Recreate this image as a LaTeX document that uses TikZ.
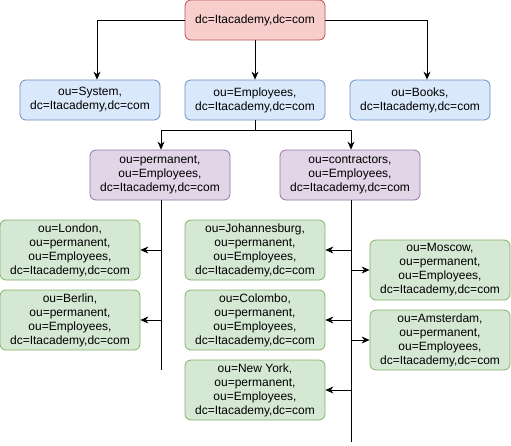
\documentclass[tikz,border=0pt]{standalone}
\usepackage{fontspec}
\setmainfont{Liberation Sans}
\usetikzlibrary{positioning,arrows.meta}

\definecolor{rojofondo}{HTML}{F8CECC}
\definecolor{rojoborde}{HTML}{B85450}
\definecolor{azulfondo}{HTML}{DAE8FC}
\definecolor{azulborde}{HTML}{6C8EBF}
\definecolor{lilafondo}{HTML}{E1D5E7}
\definecolor{lilaborde}{HTML}{9673A6}
\definecolor{verdefondo}{HTML}{D5E8D4}
\definecolor{verdeborde}{HTML}{82B366}

\begin{document}
\begin{tikzpicture}[x=1pt, y=-1pt,
    caja/.style={draw, rounded corners=6pt, line width=0.8pt, align=center,
        minimum width=140pt, inner sep=0pt, font=\fontsize{12}{14}\selectfont},
    raiz/.style={caja, fill=rojofondo, draw=rojoborde, minimum height=40pt},
    unidad/.style={caja, fill=azulfondo, draw=azulborde, minimum height=40pt},
    grupo/.style={caja, fill=lilafondo, draw=lilaborde, minimum height=50pt},
    ciudad/.style={caja, fill=verdefondo, draw=verdeborde, minimum height=60pt},
    flecha/.style={-{Stealth[length=8pt,width=7pt]}, line width=0.8pt}]
    \useasboundingbox (0,0) rectangle (511,445);

    % Definición de los nodos
    \node[raiz] (dc) at (255, 20) {dc=Itacademy,dc=com};
    \node[unidad] (sys) at (90, 100) {ou=System,\\dc=Itacademy,dc=com};
    \node[unidad] (emp) at (255, 100) {ou=Employees,\\dc=Itacademy,dc=com};
    \node[unidad] (books) at (420, 100) {ou=Books,\\dc=Itacademy,dc=com};
    \node[grupo] (perm) at (160, 175) {ou=permanent,\\ou=Employees,\\dc=Itacademy,dc=com};
    \node[grupo] (contr) at (350, 175) {ou=contractors,\\ou=Employees,\\dc=Itacademy,dc=com};
    \node[ciudad] (lon) at (70, 250) {ou=London,\\ou=permanent,\\ou=Employees,\\dc=Itacademy,dc=com};
    \node[ciudad] (ber) at (70, 320) {ou=Berlin,\\ou=permanent,\\ou=Employees,\\dc=Itacademy,dc=com};
    \node[ciudad] (joh) at (255, 250) {ou=Johannesburg,\\ou=permanent,\\ou=Employees,\\dc=Itacademy,dc=com};
    \node[ciudad] (col) at (255, 320) {ou=Colombo,\\ou=permanent,\\ou=Employees,\\dc=Itacademy,dc=com};
    \node[ciudad] (ny) at (255, 390) {ou=New York,\\ou=permanent,\\ou=Employees,\\dc=Itacademy,dc=com};
    \node[ciudad] (mos) at (440, 270) {ou=Moscow,\\ou=permanent,\\ou=Employees,\\dc=Itacademy,dc=com};
    \node[ciudad] (ams) at (440, 340) {ou=Amsterdam,\\ou=permanent,\\ou=Employees,\\dc=Itacademy,dc=com};

    % Extremos libres de las líneas verticales
    \coordinate (finperm) at (161, 370);
    \coordinate (fincontr) at (351, 442);
    \coordinate (ramal) at (255, 130);

    % Definición de las aristas
    \draw[flecha] (dc.west) -| ([xshift=7pt]sys.north);
    \draw[flecha] (dc.east) -| ([xshift=7pt]books.north);
    \draw[flecha] (dc.south) -- (emp.north);
    \draw[line width=0.8pt] (emp.south) -- (ramal);
    \draw[flecha] (ramal) -| ([xshift=1pt]perm.north);
    \draw[flecha] (ramal) -| ([xshift=1pt]contr.north);
    \draw[line width=0.8pt] ([xshift=1pt]perm.south) -- (finperm);
    \draw[line width=0.8pt] ([xshift=1pt]contr.south) -- (fincontr);
    \draw[flecha] (finperm |- lon.east) -- (lon.east);
    \draw[flecha] (finperm |- ber.east) -- (ber.east);
    \draw[flecha] (fincontr |- joh.east) -- (joh.east);
    \draw[flecha] (fincontr |- col.east) -- (col.east);
    \draw[flecha] (fincontr |- ny.east) -- (ny.east);
    \draw[flecha] (fincontr |- mos.west) -- (mos.west);
    \draw[flecha] (fincontr |- ams.west) -- (ams.west);
\end{tikzpicture}
\end{document}
